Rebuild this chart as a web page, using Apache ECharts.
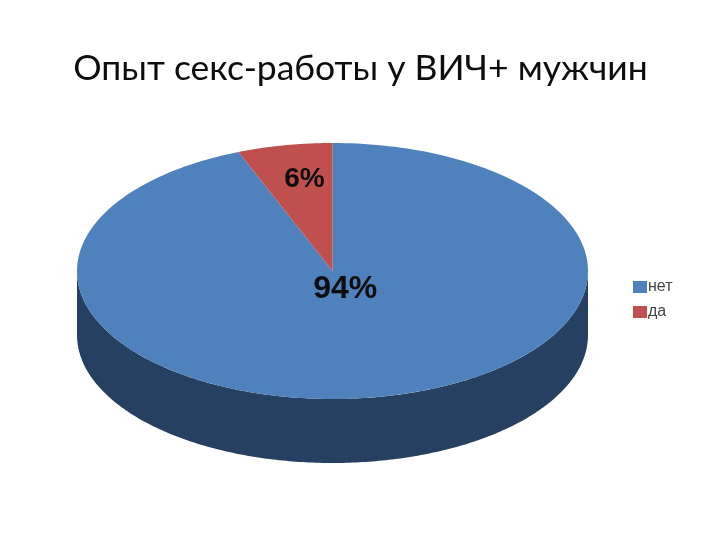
<!DOCTYPE html>
<html><head><meta charset="utf-8">
<style>html,body{margin:0;padding:0;background:#fff}#c{width:720px;height:540px}</style>
<script src="https://cdn.jsdelivr.net/npm/echarts@6/dist/echarts.min.js"></script>
</head><body><div id="c"></div>
<script>
const titleText = 'Опыт секс-работы у ВИЧ+ мужчин';
const categories = ['нет', 'да'];
const values = [94, 6];
const topColors = ['#4f81bd', '#c0504d'];
const sideColors = ['#254061', '#632523'];

const chart = echarts.init(document.getElementById('c'), null, {renderer: 'canvas'});
const total = values.reduce((a, b) => a + b, 0);
const DEPTH = 0.5;
function pt(t, dy) { return [Math.sin(t), Math.cos(t) + (dy || 0)]; }

function renderSlice(idx) {
  return function (params, api) {
    const start = values.slice(0, idx).reduce((a, b) => a + b, 0) / total * 2 * Math.PI;
    const end = start + api.value(1) / total * 2 * Math.PI;
    const c = p => api.coord(p);
    const n = 240;
    const top = [c([0, 0])];
    for (let i = 0; i <= n; i++) top.push(c(pt(start + (end - start) * i / n)));
    const children = [];
    const fs = Math.max(start, Math.PI / 2), fe = Math.min(end, 3 * Math.PI / 2);
    if (fe > fs) {
      const upper = [], lower = [];
      for (let i = 0; i <= n; i++) {
        const t = fs + (fe - fs) * i / n;
        upper.push(c(pt(t)));
        lower.unshift(c(pt(t, -DEPTH)));
      }
      children.push({type: 'polygon', shape: {points: upper.concat(lower)}, style: {fill: sideColors[idx]}});
    }
    children.push({type: 'polygon', shape: {points: top}, style: {fill: topColors[idx]}});
    return {type: 'group', children: children};
  };
}

function renderLabel(params, api) {
  const idx = api.value(0);
  const p = api.coord([api.value(1), api.value(2)]);
  return {type: 'text', x: p[0], y: p[1], z2: 10, style: {
    text: values[idx] + '%', fill: '#0d0d0d', align: 'center', verticalAlign: 'middle',
    font: 'bold ' + (idx === 0 ? 32 : 28) + 'px "Liberation Sans"'}};
}

chart.setOption({
  animation: false,
  title: {text: titleText, left: 355.5, top: 46, textAlign: 'center',
    textStyle: {fontFamily: 'Lato', fontWeight: 'normal', fontSize: 35.5, color: '#0d0d0d'}},
  legend: {orient: 'vertical', left: 628, top: 274, itemWidth: 14, itemHeight: 12, itemGap: 9,
    data: categories, selectedMode: false, icon: 'rect',
    textStyle: {fontFamily: 'Liberation Sans', fontSize: 16, color: '#444', padding: [0, 0, 0, -4]}},
  grid: {left: 77, top: 143, width: 511, height: 256},
  xAxis: {type: 'value', min: -1, max: 1, show: false},
  yAxis: {type: 'value', min: -1, max: 1, show: false},
  series: categories.map((name, i) => ({
    name, type: 'custom', coordinateSystem: 'cartesian2d', clip: false,
    itemStyle: {color: topColors[i]},
    data: [[i, values[i]]],
    encode: {x: 0, y: 1},
    renderItem: renderSlice(i)
  })).concat([{
    type: 'custom', coordinateSystem: 'cartesian2d', clip: false, z: 5,
    data: [[0, 0.05, -0.14], [1, -0.11, 0.72]],
    renderItem: renderLabel
  }])
});
</script></body></html>
